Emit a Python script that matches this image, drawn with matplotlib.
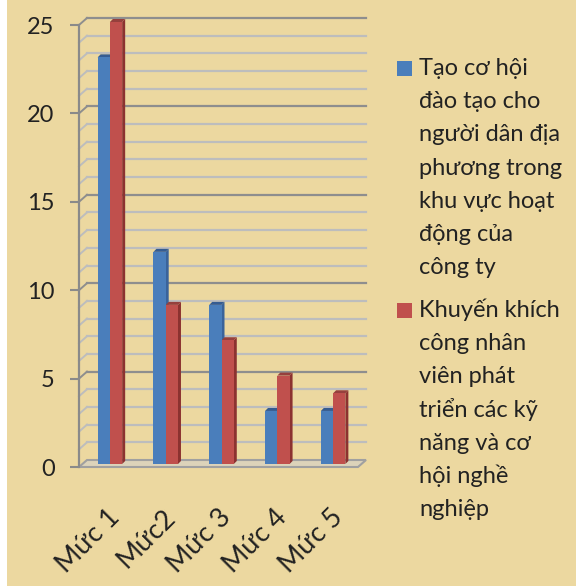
import matplotlib
matplotlib.use('Agg')
import matplotlib.pyplot as plt
from matplotlib.patches import Polygon, Rectangle
from matplotlib.lines import Line2D
from matplotlib.transforms import IdentityTransform, ScaledTranslation

# ---------------- data ----------------
categories = ['Mức 1', 'Mức2', 'Mức 3', 'Mức 4', 'Mức 5']
series1 = [23, 12, 9, 3, 3]
series2 = [25, 9, 7, 5, 4]
series_labels = [
    ['Tạo cơ hội', 'đào tạo cho', 'người dân địa', 'phương trong',
     'khu vực hoạt', 'động của', 'công ty'],
    ['Khuyến khích', 'công nhân', 'viên phát', 'triển các kỹ',
     'năng và cơ', 'hội nghề', 'nghiệp'],
]
y_ticks = [0, 5, 10, 15, 20, 25]

# ---------------- style ----------------
plt.rcParams['font.family'] = ['Lato', 'Noto Sans', 'DejaVu Sans']
BG = '#ECD8A0'
BLUE, BLUE_SIDE, BLUE_TOP = '#4A7EBB', '#3A639A', '#355C92'
RED, RED_SIDE, RED_TOP = '#C0504D', '#8C3230', '#96403D'
GRID_MAJ, GRID_MIN = '#8E8E8E', '#BDBDBD'
TXT = '#222222'

W, H = 576, 586
DPI = 100
fig = plt.figure(figsize=(W / DPI, H / DPI), dpi=DPI)
fig.patch.set_facecolor(BG)
# white strip on the left edge of the original picture
fig.add_artist(Rectangle((0, 0), 7 / W, 1, transform=fig.transFigure,
                         facecolor='white', edgecolor='none', zorder=0))

ax = fig.add_axes([79 / W, 1 - 467 / H, 279 / W, 442 / H])
ax.set_xlim(-0.5, len(categories) - 0.5)
ax.set_ylim(0, 25)
ax.patch.set_visible(False)
for s in ax.spines.values():
    s.set_visible(False)

DX, DY = 8, 7        # depth of back wall (pixels)
MX, MY = 3, 3        # bar front face depth
SX, SY = 3, 3        # bar side depth

ID = IdentityTransform()


def disp(x, y, ox=0, oy=0):
    px, py = ax.transData.transform((x, y))
    return (px + ox, py + oy)


x0, x1 = ax.get_xlim()

# floor
floor = Polygon([disp(x0, 0), disp(x1, 0), disp(x1, 0, DX, DY), disp(x0, 0, DX, DY)],
                closed=True, facecolor='#DCD3BA', edgecolor='#A0A0A0', lw=1.5,
                transform=ID, clip_on=False, zorder=1)
ax.add_patch(floor)

# gridlines on back wall + diagonals on left side
for v in range(1, 26):
    c = GRID_MAJ if v % 5 == 0 else GRID_MIN
    a = disp(x0, v, DX, DY)
    b = disp(x1, v, DX, DY)
    f = disp(x0, v)
    ax.add_line(Line2D([a[0], b[0]], [a[1], b[1]], color=c, lw=1.6,
                       transform=ID, clip_on=False, zorder=1.5))
    ax.add_line(Line2D([f[0], a[0]], [f[1], a[1]], color=c, lw=1.4,
                       transform=ID, clip_on=False, zorder=1.5))

# front left vertical edge
p0, p1 = disp(x0, 0), disp(x0, 25)
ax.add_line(Line2D([p0[0], p1[0]], [p0[1], p1[1]], color='#8A8A8A', lw=1.6,
                   transform=ID, clip_on=False, zorder=2))

# bars
w = 0.22
mid = ax.transData + ScaledTranslation(MX / DPI, MY / DPI, fig.dpi_scale_trans)
for vals, off, fc, sc, tc in [(series1, -w / 2, BLUE, BLUE_SIDE, BLUE_TOP),
                              (series2, w / 2, RED, RED_SIDE, RED_TOP)]:
    for i, v in enumerate(vals):
        bx0, bx1 = i + off - w / 2, i + off + w / 2
        side = Polygon([disp(bx1, 0, MX, MY), disp(bx1, v, MX, MY),
                        disp(bx1, v, MX + SX, MY + SY), disp(bx1, 0, MX + SX, MY + SY)],
                       closed=True, facecolor=sc, edgecolor='none',
                       transform=ID, clip_on=False, zorder=3)
        top = Polygon([disp(bx0, v, MX, MY), disp(bx1, v, MX, MY),
                       disp(bx1, v, MX + SX, MY + SY), disp(bx0, v, MX + SX, MY + SY)],
                      closed=True, facecolor=tc, edgecolor='none',
                      transform=ID, clip_on=False, zorder=3)
        ax.add_patch(side)
        ax.add_patch(top)
    ax.bar([i + off for i in range(len(vals))], vals, width=w, color=fc,
           transform=mid, zorder=4, clip_on=False)

ax.set_xlim(x0, x1)
ax.set_ylim(0, 25)

# ticks
ax.set_yticks(y_ticks)
ax.set_yticklabels([str(t) for t in y_ticks], fontsize=17, color=TXT)
ax.tick_params(axis='y', length=6.5, width=1.5, color='#8A8A8A', pad=11)
ax.set_xticks(range(len(categories)))
ax.set_xticklabels(categories, fontsize=19.5, color=TXT, rotation=45,
                   ha='right', va='top', rotation_mode='anchor')
ax.tick_params(axis='x', length=0, pad=27)

# legend (manual, wrapped like the original)
colors = [BLUE, RED]
first_baselines = [75, 317]
spacing = 33.2
for lines, col, yb in zip(series_labels, colors, first_baselines):
    fig.add_artist(Rectangle((397 / W, 1 - (yb + 1) / H), 15 / W, 15 / H,
                             transform=fig.transFigure, facecolor=col, edgecolor='none'))
    for k, ln in enumerate(lines):
        fig.text(419 / W, 1 - (yb + k * spacing) / H, ln, fontsize=17, color=TXT,
                 ha='left', va='baseline')

fig.savefig('out.png', dpi=DPI, facecolor=BG)
